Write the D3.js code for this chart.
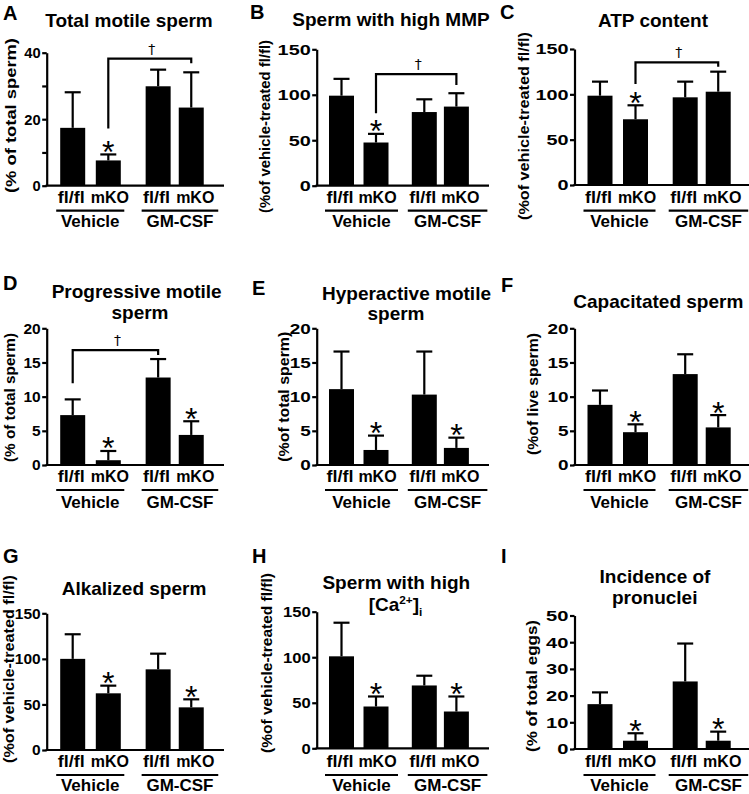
<!DOCTYPE html>
<html><head><meta charset="utf-8">
<script src="https://cdn.jsdelivr.net/npm/d3@7"></script>
<style>
html,body{margin:0;padding:0;background:#fff;}
svg{display:block;font-family:"Liberation Sans",Arial,Helvetica,sans-serif;}
</style></head><body>
<svg id="chart" width="749" height="794"></svg>
<script>
// ---------------- DATA ----------------
const genotypes = ["fl/fl", "mKO", "fl/fl", "mKO"];
const treatments = ["Vehicle", "GM-CSF"];
const barTreatment = [0, 0, 1, 1];
const panelLetters = ["A", "B", "C", "D", "E", "F", "G", "H", "I"];
const titles = [
  ["Total motile sperm"],
  ["Sperm with high MMP"],
  ["ATP content"],
  ["Progressive motile", "sperm"],
  ["Hyperactive motile", "sperm"],
  ["Capacitated sperm"],
  ["Alkalized sperm"],
  ["Sperm with high", "[Ca^{2+}]_{i}"],
  ["Incidence of", "pronuclei"]
];
const yLabels = [
  "(% of total sperm)", "(%of vehicle-treated fl/fl)", "(%of vehicle-treated fl/fl)",
  "(% of total sperm)", "(%of total sperm)", "(%of live sperm)",
  "(%of vehicle-treated fl/fl)", "(%of vehicle-treated fl/fl)", "(% of total eggs)"
];
const yMaxes      = [40, 150, 150, 20, 20, 20, 150, 150, 50];
const yTickSteps  = [10, 50, 50, 5, 5, 5, 50, 50, 10];
const yLabelSteps = [20, 50, 50, 5, 5, 5, 50, 50, 10];

// means (fl/fl Vehicle, mKO Vehicle, fl/fl GM-CSF, mKO GM-CSF) and upper error
const meansA = [17.4, 7.6, 29.9, 23.5];  const errA = [10.7, 1.8, 5.0, 10.6];
const meansB = [99, 47.5, 81, 87];       const errB = [18.5, 9.5, 14, 14.7];
const meansC = [98.5, 72.5, 96.7, 102.9]; const errC = [15.5, 15.4, 17.3, 22.1];
const meansD = [7.3, 0.7, 12.8, 4.4];    const errD = [2.3, 1.35, 2.7, 2.0];
const meansE = [11.1, 2.2, 10.3, 2.5];   const errE = [5.5, 2.1, 6.3, 1.5];
const meansF = [8.8, 4.8, 13.3, 5.5];    const errF = [2.1, 1.15, 2.9, 1.8];
const meansG = [100, 62.2, 88.5, 46.8];  const errG = [27, 8.4, 17.2, 8.8];
const meansH = [101, 45.9, 69, 40.4];    const errH = [36.9, 11, 10.7, 16.5];
const meansI = [16.8, 3.1, 25.3, 3.1];   const errI = [4.4, 2.8, 14.2, 3.4];
const allMeans = [meansA, meansB, meansC, meansD, meansE, meansF, meansG, meansH, meansI];
const allErrs  = [errA, errB, errC, errD, errE, errF, errG, errH, errI];

// significance marks
const starBars = [[1], [1], [1], [1, 3], [1, 3], [1, 3], [1, 3], [1, 3], [1, 3]];
const bracketPanels = [0, 1, 2, 3];
const bracketFrom   = [1, 1, 1, 0];
const bracketTo     = [3, 3, 3, 2];
const bracketTop    = [38.2, 122.8, 135.3, 16.8];
const bracketLeftEnd  = [17.2, 79.6, 111.4, 11.95];
const bracketRightEnd = [36.8, 110.7, 130.5, 16.1];

// ---------------- LAYOUT ----------------
const barSlots = [0, 1, 2.4, 3.33];
const xLabelShift = [-1.5, 1.5, -1.5, 4];
const colLayout = [
  {axisX: 46.7, xEnd: 224, c0: 72.7, step: 35.6, gEnd: [16, 27]},
  {axisX: 316.7, xEnd: 489, c0: 341.5, step: 34.5, gEnd: [22, 31]},
  {axisX: 574.5, xEnd: 749, c0: 600, step: 35.5, gEnd: [20, 30]}
];
const rowLayout = [
  {xLab: 203, gLine: 210.7, gLab: 227},
  {xLab: 481.7, gLine: 490, gLab: 508.3},
  {xLab: 767.3, gLine: 775, gLab: 791}
];
const panelY0   = [185.7, 185.7, 185, 465, 465, 465, 750, 748.3, 749];
const panelYTop = [52.7, 49.3, 49, 328.3, 328.3, 328.3, 613.3, 611.7, 615.5];
const letterPos = [[3, 20], [250, 18.5], [500, 18.5], [3, 290], [252, 295], [501, 291.7], [3, 563], [252, 563], [501, 563]];
const titlePos = [
  [[129, 27]], [[391, 26]], [[653, 26.7]],
  [[136.7, 298.3], [140, 319]], [[406.5, 300], [396, 320]], [[658.3, 308.3]],
  [[134, 595]], [[396.3, 588.5], [395.5, 611]], [[655, 583.3], [654.7, 604]]
];
const yLabPos = [[15.5, 115.5, 155], [270, 126.5, 173], [528.5, 126, 188],
                 [15, 397.5, 129], [288.5, 396.7, 130], [537.5, 394, 122],
                 [13.5, 669, 188], [272, 663, 180], [537, 686, 132]];
const yLabSize = [15, 15, 15, 15, 15, 15, 14, 15, 15];
const tickStretch = [0.95, 1.28, 1.28, 1.0, 1.22, 1.22, 1.0, 1.07, 1.3];
const barW = 25, capW = 16, lw = 2.2, tickLen = 4.5, tickPad = 1.5;

const svg = d3.select("#chart");
svg.append("rect").attr("width", 749).attr("height", 794).attr("fill", "#fff");

function addRich(textSel, str, baseSize) {
  const re = /(\^\{[^}]*\}|_\{[^}]*\}|[^\^_]+)/g;
  let m, shift = 0;
  while ((m = re.exec(str)) !== null) {
    const tok = m[0];
    let target = 0, txt = tok, size = baseSize;
    if (tok.startsWith("^{")) { target = -0.36 * baseSize; txt = tok.slice(2, -1); size = baseSize * 0.62; }
    else if (tok.startsWith("_{")) { target = 0.26 * baseSize; txt = tok.slice(2, -1); size = baseSize * 0.62; }
    textSel.append("tspan").attr("dy", target - shift).attr("font-size", size).text(txt);
    shift = target;
  }
}

for (let i = 0; i < 9; i++) {
  const col = i % 3, row = Math.floor(i / 3);
  const C = colLayout[col], R = rowLayout[row];
  const g = svg.append("g").attr("class", "panel-" + panelLetters[i]);
  const y = d3.scaleLinear().domain([0, yMaxes[i]]).range([panelY0[i], panelYTop[i]]);
  const xs = d3.scaleLinear().domain([0, 1]).range([C.c0, C.c0 + C.step]);
  const bx = k => xs(barSlots[k]);
  const means = allMeans[i], errs = allErrs[i];

  // panel letter
  g.append("text").attr("x", letterPos[i][0]).attr("y", letterPos[i][1])
    .attr("font-size", 20).attr("font-weight", "bold").attr("fill", "#000").text(panelLetters[i]);

  // title
  titles[i].forEach((line, li) => {
    const t = g.append("text").attr("x", titlePos[i][li][0]).attr("y", titlePos[i][li][1])
      .attr("text-anchor", "middle").attr("font-size", 19).attr("font-weight", "bold").attr("fill", "#000");
    if (/[\^_]\{/.test(line)) addRich(t, line, 19); else t.text(line);
  });

  // y label
  g.append("text")
    .attr("transform", `translate(${yLabPos[i][0]},${yLabPos[i][1]}) rotate(-90)`)
    .attr("text-anchor", "middle").attr("font-size", yLabSize[i]).attr("font-weight", "bold").attr("fill", "#000")
    .attr("textLength", yLabPos[i][2]).attr("lengthAdjust", "spacingAndGlyphs")
    .text(yLabels[i]);

  // bars
  g.selectAll("rect.bar").data(means).join("rect").attr("class", "bar")
    .attr("x", (d, k) => bx(k) - barW / 2).attr("width", barW)
    .attr("y", d => y(d)).attr("height", d => y(0) - y(d)).attr("fill", "#000");

  // error bars
  const eb = g.selectAll("g.err").data(means).join("g").attr("class", "err")
    .attr("stroke", "#000").attr("stroke-width", lw);
  eb.append("line").attr("x1", (d, k) => bx(k)).attr("x2", (d, k) => bx(k))
    .attr("y1", d => y(d)).attr("y2", (d, k) => y(d + errs[k]));
  eb.append("line").attr("x1", (d, k) => bx(k) - capW / 2).attr("x2", (d, k) => bx(k) + capW / 2)
    .attr("y1", (d, k) => y(d + errs[k])).attr("y2", (d, k) => y(d + errs[k]));

  // y axis
  const ls = yLabelSteps[i];
  const axis = d3.axisLeft(y)
    .tickValues(d3.range(0, yMaxes[i] + 1e-9, yTickSteps[i]))
    .tickSize(tickLen).tickSizeOuter(0).tickPadding(tickPad)
    .tickFormat(v => (Math.abs(v / ls - Math.round(v / ls)) < 1e-9) ? d3.format("d")(v) : "");
  const ag = g.append("g").attr("transform", `translate(${C.axisX},0)`).call(axis);
  ag.attr("font-family", null).attr("font-size", null);
  ag.select(".domain").attr("stroke", "#000").attr("stroke-width", lw);
  ag.selectAll(".tick line").attr("stroke", "#000").attr("stroke-width", lw);
  const sx = tickStretch[i];
  ag.selectAll(".tick text").attr("fill", "#000").attr("font-size", 15.5).attr("font-weight", "bold")
    .attr("x", -(tickLen + tickPad) / sx).attr("transform", `scale(${sx},1)`);

  // x baseline
  g.append("line").attr("x1", C.axisX - lw / 2).attr("x2", C.xEnd)
    .attr("y1", y(0)).attr("y2", y(0)).attr("stroke", "#000").attr("stroke-width", lw);

  // category labels
  g.selectAll("text.xlab").data(genotypes).join("text").attr("class", "xlab")
    .attr("x", (d, k) => bx(k) + xLabelShift[k]).attr("y", R.xLab).attr("text-anchor", "middle")
    .attr("font-size", 16).attr("font-weight", "bold").attr("fill", "#000")
    .each(function (d) {
      if (d === "fl/fl") d3.select(this).attr("textLength", 27).attr("lengthAdjust", "spacingAndGlyphs");
    })
    .text(d => d);

  // treatment group lines and labels
  treatments.forEach((tr, gi) => {
    const ks = d3.range(4).filter(k => barTreatment[k] === gi);
    const x1 = bx(ks[0]) - 16.5, x2 = Math.min(bx(ks[ks.length - 1]) + C.gEnd[gi], 748.5);
    g.append("line").attr("x1", x1).attr("x2", x2)
      .attr("y1", R.gLine).attr("y2", R.gLine).attr("stroke", "#000").attr("stroke-width", lw);
    g.append("text").attr("x", (x1 + x2) / 2).attr("y", R.gLab)
      .attr("text-anchor", "middle").attr("font-size", 17).attr("font-weight", "bold").attr("fill", "#000").text(tr);
  });

  // stars
  starBars[i].forEach(k => {
    const top = y(means[k] + errs[k]);
    g.append("text").attr("x", bx(k)).attr("y", top - 10 + 0.575 * 32)
      .attr("text-anchor", "middle").attr("font-size", 32).attr("font-weight", "normal")
      .attr("fill", "#000").text("*");
  });

  // brackets with dagger
  const bi = bracketPanels.indexOf(i);
  if (bi >= 0) {
    const xa = bx(bracketFrom[bi]), xb = bx(bracketTo[bi]);
    const p = d3.path();
    p.moveTo(xa, y(bracketLeftEnd[bi]));
    p.lineTo(xa, y(bracketTop[bi]));
    p.lineTo(xb, y(bracketTop[bi]));
    p.lineTo(xb, y(bracketRightEnd[bi]));
    g.append("path").attr("d", p.toString()).attr("fill", "none")
      .attr("stroke", "#000").attr("stroke-width", lw);
    g.append("text").attr("x", (xa + xb) / 2 + 2).attr("y", y(bracketTop[bi]) - 5)
      .attr("text-anchor", "middle").attr("font-size", 14).attr("font-weight", "normal")
      .attr("fill", "#000").attr("opacity", 0.99).style("font-family", "'DejaVu Sans', sans-serif")
      .text("\u2020");
  }
}
</script></body></html>
